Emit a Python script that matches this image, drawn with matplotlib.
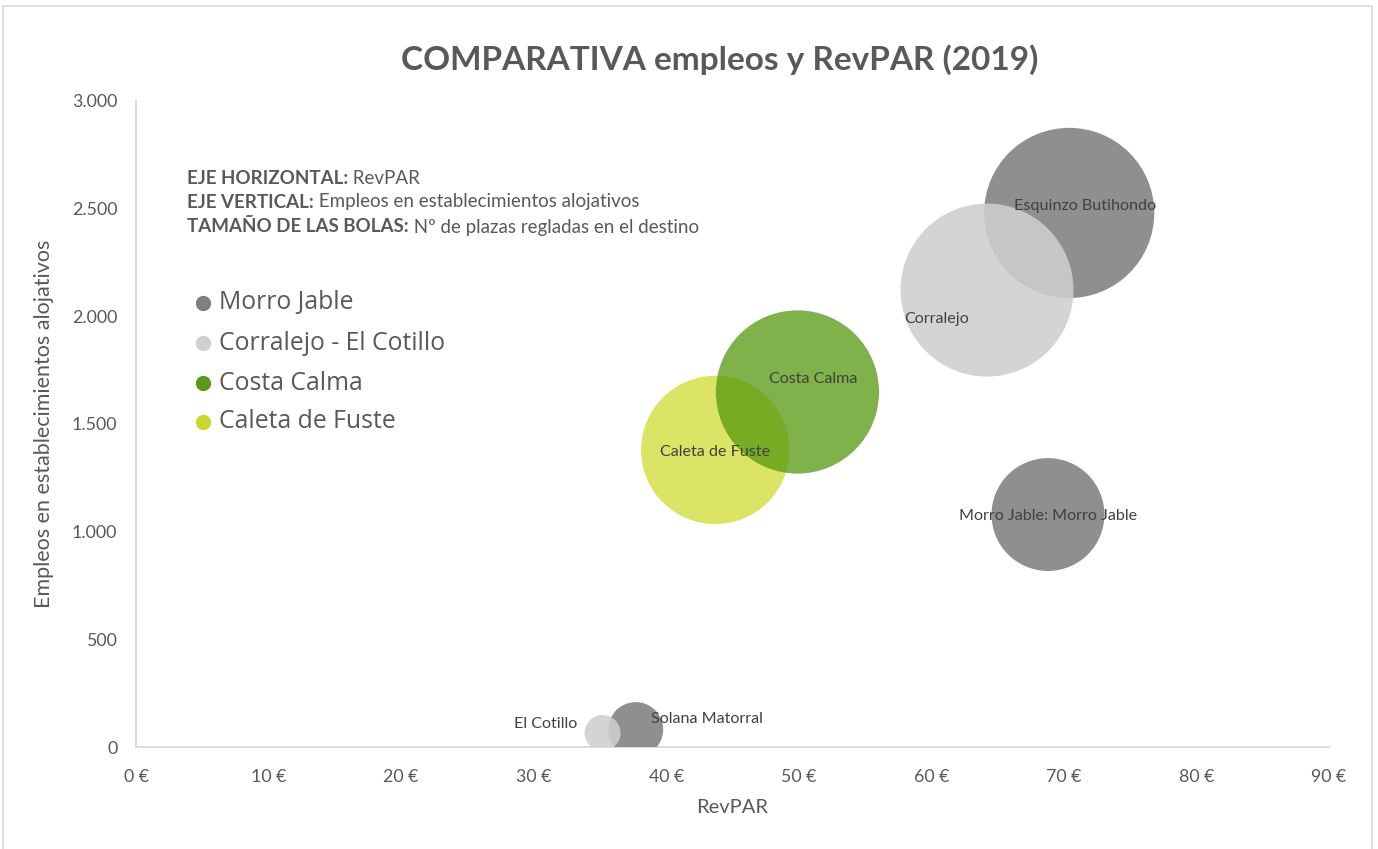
import matplotlib
matplotlib.use("Agg")
import matplotlib.pyplot as plt
import numpy as np
from matplotlib.patches import Rectangle
from matplotlib.lines import Line2D
from matplotlib.ticker import FuncFormatter

# ---------------- data ----------------
names = ["Esquinzo Butihondo", "Morro Jable: Morro Jable", "Solana Matorral",
         "Corralejo", "El Cotillo", "Caleta de Fuste", "Costa Calma"]
series = ["Morro Jable", "Morro Jable", "Morro Jable",
          "Corralejo - El Cotillo", "Corralejo - El Cotillo",
          "Caleta de Fuste", "Costa Calma"]
revpar = [70.4, 68.8, 37.7, 64.2, 35.2, 43.7, 49.9]
empleos = [2479, 1079, 81, 2121, 65, 1379, 1648]
plazas = [15000, 6600, 1560, 15500, 670, 11400, 13800]

legend_names = ["Morro Jable", "Corralejo - El Cotillo", "Costa Calma", "Caleta de Fuste"]
legend_colors = ["#7f7f7f", "#cfcfcf", "#5a9a18", "#cad72f"]
fill_colors = {"Morro Jable": ("#808080", 0.88),
               "Corralejo - El Cotillo": ("#cecece", 0.88),
               "Costa Calma": ("#56980e", 0.75),
               "Caleta de Fuste": ("#cfdb32", 0.75)}

label_offsets = [(16, 7), (0, -1.5), (71.5, 10.5), (-50.5, -29), (-57, 9), (0, -2), (15.5, 13)]

xticks = [0, 10, 20, 30, 40, 50, 60, 70, 80, 90]
yticks = [0, 500, 1000, 1500, 2000, 2500, 3000]

W, H, DPI = 1378, 849, 100
fig = plt.figure(figsize=(W / DPI, H / DPI), dpi=DPI)
fig.patch.set_facecolor("white")

# frame around chart
fig.add_artist(Rectangle((3 / W, -0.01), (1372 - 3) / W, 1 - 6 / H + 0.01,
                         transform=fig.transFigure, fill=False,
                         edgecolor="#d9d9d9", lw=1.2))

ax = fig.add_axes([136 / W, (H - 747) / H, (1329 - 136) / W, (747 - 100.7) / H])
ax.set_xlim(0, 90)
ax.set_ylim(0, 3000)

# bubble sizes: largest diameter ~173 px
dmax = 173.0
pmax = max(plazas)
for i in range(len(names)):
    c, a = fill_colors[series[i]]
    d_px = dmax * np.sqrt(plazas[i] / pmax)
    s = (d_px * 72 / DPI) ** 2
    ax.scatter([revpar[i]], [empleos[i]], s=s, color=c, alpha=a,
               edgecolors="none", zorder=3 + i * 0.01)

lab_font = "Lato"
for i in range(len(names)):
    ox, oy = label_offsets[i]
    ax.annotate(names[i], (revpar[i], empleos[i]),
                xytext=(ox * 72 / DPI, oy * 72 / DPI), textcoords="offset points",
                ha="center", va="center", fontsize=11.6, color="#404040",
                family=lab_font, zorder=10)

for side in ["top", "right"]:
    ax.spines[side].set_visible(False)
for side in ["left", "bottom"]:
    ax.spines[side].set_color("#d9d9d9")
    ax.spines[side].set_linewidth(1.3)

ax.set_xticks(xticks)
ax.set_yticks(yticks)
ax.xaxis.set_major_formatter(FuncFormatter(lambda v, p: f"{int(v)} €"))
ax.yaxis.set_major_formatter(FuncFormatter(lambda v, p: f"{int(v):,}".replace(",", ".")))
ax.tick_params(axis="both", length=0, colors="#595959", labelsize=12.8)
ax.tick_params(axis="x", pad=16)
ax.tick_params(axis="y", pad=13.5)
for t in ax.get_xticklabels() + ax.get_yticklabels():
    t.set_family("Lato")

ax.set_xlabel("RevPAR", fontsize=14.5, color="#595959", family="Lato", labelpad=10)
ax.set_ylabel("Empleos en establecimientos alojativos", fontsize=15.5,
              color="#595959", family="Lato", labelpad=13)

fig.text(720 / W, 1 - 60 / H, "COMPARATIVA empleos y RevPAR (2019)",
         ha="center", va="center", fontsize=24, fontweight="bold",
         color="#595959", family="Lato")

# explanatory text
notes = [("EJE HORIZONTAL:", " RevPAR"),
         ("EJE VERTICAL:", " Empleos en establecimientos alojativos"),
         ("TAMAÑO DE LAS BOLAS:", " Nº de plazas regladas en el destino")]
note_y = [178, 202, 227]
fig.canvas.draw()
renderer = fig.canvas.get_renderer()
for (b, n), yy in zip(notes, note_y):
    tb = fig.text(187 / W, 1 - yy / H, b, ha="left", va="center", fontsize=13.5,
                  fontweight="bold", color="#595959", family="Lato")
    bb = tb.get_window_extent(renderer=renderer)
    fig.text(bb.x1 / W, 1 - yy / H, n, ha="left", va="center", fontsize=13.5,
             color="#595959", family="Lato")

# legend
leg_y = [303, 343, 383, 422]
for nm, col, yy in zip(legend_names, legend_colors, leg_y):
    fig.add_artist(Line2D([203 / W], [1 - yy / H], marker="o", markersize=10,
                          color=col, transform=fig.transFigure, lw=0))
    fig.text(219 / W, 1 - yy / H, nm, ha="left", va="center", fontsize=17.8,
             color="#595959", family="Open Sans")

fig.savefig("out.png", dpi=DPI)
